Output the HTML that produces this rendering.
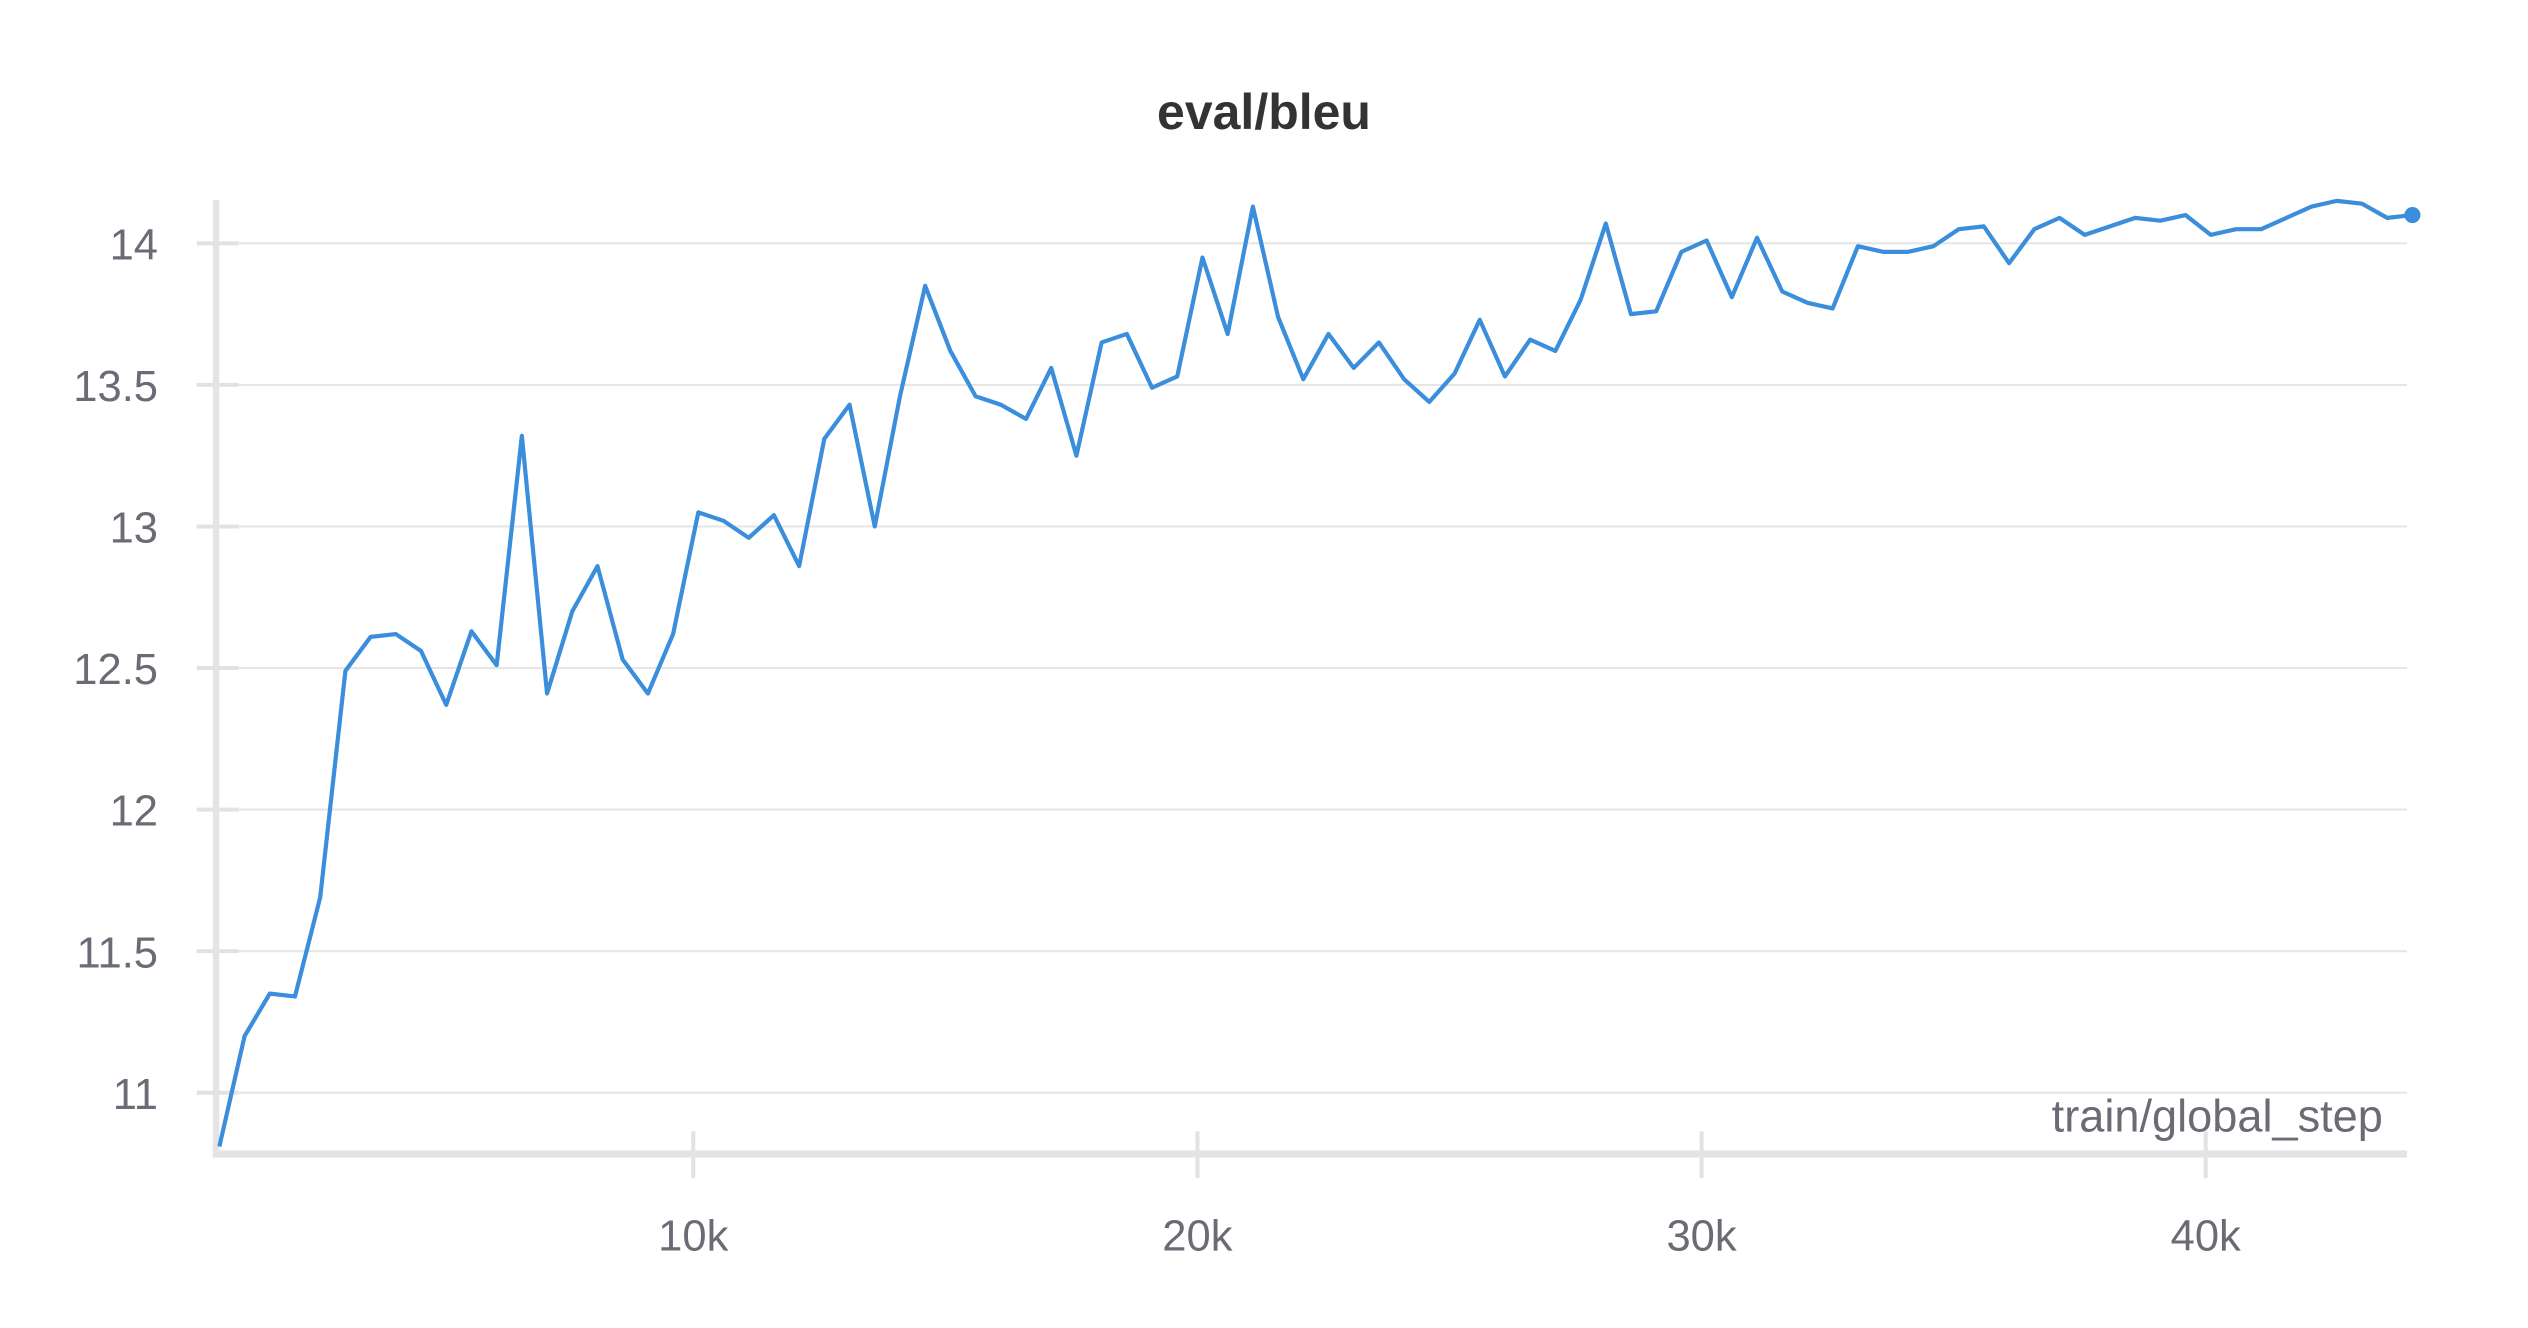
<!DOCTYPE html>
<html><head><meta charset="utf-8"><style>
html,body{margin:0;padding:0;background:#fff;}
svg{display:block;}
text{font-family:"Liberation Sans",sans-serif;}
</style></head><body>
<svg id="chart" width="2528" height="1328" viewBox="0 0 1568 824" preserveAspectRatio="none" xmlns="http://www.w3.org/2000/svg">
<text x="784" y="80" text-anchor="middle" font-size="31" font-weight="bold" fill="#333">eval/bleu</text>
<g id="grid"></g>
<g id="axes"></g>
<path id="line" fill="none" stroke="#3a8edb" stroke-width="2.6" stroke-linejoin="round"/>
<circle id="dot" r="5" fill="#3a8edb"/>
<text x="1478" y="702" text-anchor="end" font-size="28" fill="#6b6b76">train/global_step</text>
</svg>
<script>
const yTicks=[11,11.5,12,12.5,13,13.5,14];
const yTickLabels=["11","11.5","12","12.5","13","13.5","14"];
const xTicks=[10000,20000,30000,40000];
const xTickLabels=["10k","20k","30k","40k"];
const stepStart=600, stepSize=500;
const bleu=[10.81,11.20,11.35,11.34,11.69,12.49,12.61,12.62,12.56,12.37,12.63,12.51,13.32,12.41,12.70,12.86,12.53,12.41,12.62,13.05,13.02,12.96,13.04,12.86,13.31,13.43,13.00,13.46,13.85,13.62,13.46,13.43,13.38,13.56,13.25,13.65,13.68,13.49,13.53,13.95,13.68,14.13,13.74,13.52,13.68,13.56,13.65,13.52,13.44,13.54,13.73,13.53,13.66,13.62,13.80,14.07,13.75,13.76,13.97,14.01,13.81,14.02,13.83,13.79,13.77,13.99,13.97,13.97,13.99,14.05,14.06,13.93,14.05,14.09,14.03,14.06,14.09,14.08,14.10,14.03,14.05,14.05,14.09,14.13,14.15,14.14,14.09,14.10];
const steps=bleu.map((_,i)=>stepStart+stepSize*i);
const NS="http://www.w3.org/2000/svg";
const X=s=>117.3+s*0.03127;
const Y=v=>151+(14-v)*175.67;
const grid=document.getElementById('grid'), axes=document.getElementById('axes');
function mk(tag,attrs,parent){const e=document.createElementNS(NS,tag);for(const k in attrs)e.setAttribute(k,attrs[k]);parent.appendChild(e);return e;}
yTicks.forEach((v,i)=>{
  const g=mk('line',{x1:134,x2:1493,y1:Y(v),y2:Y(v),stroke:'#e6e6e6','stroke-width':1.3},grid);
  
  
  const tk=mk('line',{x1:122,x2:148,y1:Y(v),y2:Y(v),stroke:'#e2e2e2','stroke-width':2.5},axes);
  
  
  const t=mk('text',{x:98,y:Y(v)+10,'text-anchor':'end','font-size':27,fill:'#6b6b76'},axes);
  t.textContent=yTickLabels[i];
  
  
});
xTicks.forEach((s,i)=>{
  const tk=mk('line',{x1:X(s),x2:X(s),y1:702,y2:731,stroke:'#e2e2e2','stroke-width':2.5},axes);
  
  
  const t=mk('text',{x:X(s),y:776,'text-anchor':'middle','font-size':27,fill:'#6b6b76'},axes);
  t.textContent=xTickLabels[i];
  
  
});
const ya=mk('line',{x1:134,x2:134,y1:124,y2:718,stroke:'#e4e4e6','stroke-width':4},axes);


const xa=mk('line',{x1:132,x2:1493,y1:716,y2:716,stroke:'#e4e4e6','stroke-width':4.5},axes);


document.getElementById('line').setAttribute('d',bleu.map((v,i)=>(i?'L':'M')+X(steps[i]).toFixed(2)+','+Y(v).toFixed(2)).join(''));
const last=bleu.length-1;
const dot=document.getElementById('dot');
dot.setAttribute('cx',X(steps[last]));dot.setAttribute('cy',Y(bleu[last]));
</script>
</body></html>
